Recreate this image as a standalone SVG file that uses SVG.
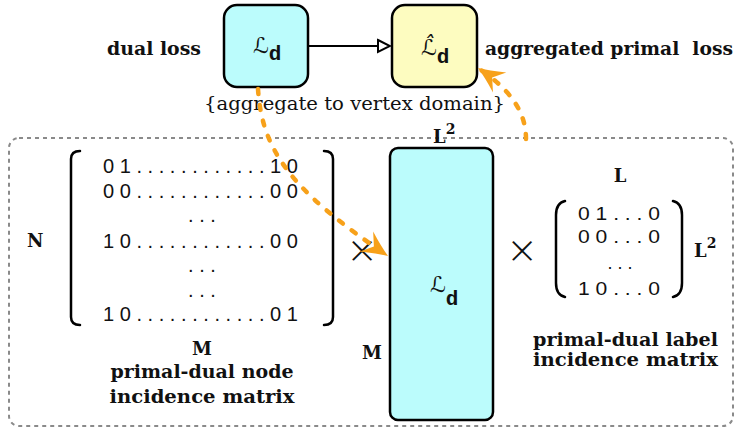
<svg xmlns="http://www.w3.org/2000/svg" width="735" height="428" viewBox="0 0 735 428">
<style>
.lbl{font-family:"DejaVu Serif","Liberation Serif",serif;font-weight:bold;font-size:18px;fill:#111}
.reg{font-family:"DejaVu Serif","Liberation Serif",serif;font-size:18px;fill:#111}
.mat{font-family:"Liberation Sans",Arial,sans-serif;font-size:20px;fill:#111}
.mat2{font-family:"Liberation Sans",Arial,sans-serif;font-size:18px;fill:#111}
.scr{font-family:"DejaVu Serif","DejaVu Sans",serif;font-style:italic;font-size:22px;fill:#111}
.sub{font-family:"Liberation Mono","Courier New",monospace;font-style:normal;font-size:21px;font-weight:bold;fill:#111}
.box{stroke:#000;stroke-width:2.5}
.cyan{fill:#bbfcfc}
.yellow{fill:#fdfcc0}
.brk{fill:none;stroke:#000;stroke-width:2.5;stroke-linecap:round}
.times{font-family:Inter,"Liberation Sans",sans-serif;font-weight:200;font-size:46px;fill:#111}
.orange{fill:none;stroke:#f7a11a;stroke-width:4.5;stroke-linecap:round;stroke-dasharray:5 11}
</style>
<defs>
<marker id="hollow" markerUnits="userSpaceOnUse" markerWidth="16" markerHeight="16" viewBox="-14 -8 16 16" refX="0" refY="0" orient="auto">
<path d="M-12,-6 L0,0 L-12,6 Z" fill="#fff" stroke="#000" stroke-width="2" stroke-linejoin="miter"/>
</marker>
<marker id="sharp" markerUnits="userSpaceOnUse" markerWidth="32" markerHeight="32" viewBox="-28 -16 32 32" refX="0" refY="0" orient="auto">
<path d="M0,0 Q-11,-4 -26,-12 L-17,0 L-26,12 Q-11,4 0,0 Z" fill="#f7a11a"/>
</marker>
</defs>

<g id="container">
<rect x="9" y="138" width="724" height="288" rx="10" fill="none" stroke="#8a8a8a" stroke-width="2" stroke-dasharray="4 4"/>
</g>

<g id="dual-loss">
<rect class="box cyan" x="224" y="5" width="84" height="82" rx="13"/>
<text class="scr" x="253" y="53">ℒ<tspan class="sub" dy="7">d</tspan></text>
<text class="lbl" x="107" y="55" textLength="94" lengthAdjust="spacingAndGlyphs">dual loss</text>
</g>

<g id="primal-loss">
<rect class="box yellow" x="392" y="5" width="85" height="82" rx="13"/>
<text class="scr" x="421" y="55">ℒ̂<tspan class="sub" dy="8">d</tspan></text>
<text class="lbl" x="485" y="55" xml:space="preserve" textLength="248" lengthAdjust="spacingAndGlyphs">aggregated primal  loss</text>
</g>

<g id="aggregate-label">
<text class="reg" x="204" y="110" textLength="301" lengthAdjust="spacingAndGlyphs">{aggregate to vertex domain}</text>
</g>

<g id="node-matrix">
<path class="brk" d="M80,151 Q71,151 71,159 L71,317 Q71,325 80,325"/>
<path class="brk" d="M324,151 Q333,151 333,159 L333,317 Q333,325 324,325"/>
<text class="mat" x="103" y="173" textLength="195" lengthAdjust="spacingAndGlyphs">0 1 . . . . . . . . . . . . 1 0</text>
<text class="mat" x="103" y="198" textLength="195" lengthAdjust="spacingAndGlyphs">0 0 . . . . . . . . . . . . 0 0</text>
<text class="mat" x="202" y="222" text-anchor="middle">. . .</text>
<text class="mat" x="103" y="248" textLength="195" lengthAdjust="spacingAndGlyphs">1 0 . . . . . . . . . . . . 0 0</text>
<text class="mat" x="202" y="272" text-anchor="middle">. . .</text>
<text class="mat" x="202" y="297" text-anchor="middle">. . .</text>
<text class="mat" x="103" y="321" textLength="195" lengthAdjust="spacingAndGlyphs">1 0 . . . . . . . . . . . . 0 1</text>
<text class="lbl" x="27" y="247" font-size="20">N</text>
<text class="lbl" x="202" y="355" text-anchor="middle" font-size="20">M</text>
<text class="lbl" x="202" y="378" text-anchor="middle" textLength="183" lengthAdjust="spacingAndGlyphs">primal-dual node</text>
<text class="lbl" x="202" y="403" text-anchor="middle" textLength="185" lengthAdjust="spacingAndGlyphs">incidence matrix</text>
</g>

<g id="times-1">
<text class="times" x="362" y="264" text-anchor="middle">×</text>
</g>

<g id="dual-matrix">
<rect class="box cyan" x="390" y="148" width="103" height="272" rx="8"/>
<text class="scr" x="430" y="292" font-size="20">ℒ<tspan class="sub" font-size="19" dy="13">d</tspan></text>
<text class="lbl" x="433" y="143" font-size="20">L<tspan font-size="14" dy="-9">2</tspan></text>
<text class="lbl" x="362" y="359" font-size="20">M</text>
</g>

<g id="times-2">
<text class="times" x="522" y="264" text-anchor="middle">×</text>
</g>

<g id="label-matrix">
<path class="brk" d="M565,201 Q556,203 556,215 L556,283 Q556,295 565,297"/>
<path class="brk" d="M673,201 Q682,203 682,215 L682,283 Q682,295 673,297"/>
<text class="mat2" x="578" y="220" textLength="82" lengthAdjust="spacingAndGlyphs">0 1 . . . 0</text>
<text class="mat2" x="578" y="243" textLength="82" lengthAdjust="spacingAndGlyphs">0 0 . . . 0</text>
<text class="mat2" x="620" y="269" text-anchor="middle">. . .</text>
<text class="mat2" x="578" y="295" textLength="82" lengthAdjust="spacingAndGlyphs">1 0 . . . 0</text>
<text class="lbl" x="620" y="182" text-anchor="middle" font-size="20">L</text>
<text class="lbl" x="694" y="257" font-size="20">L<tspan font-size="14" dy="-9">2</tspan></text>
<text class="lbl" x="533" y="346" textLength="185" lengthAdjust="spacingAndGlyphs">primal-dual label</text>
<text class="lbl" x="533" y="366" textLength="185" lengthAdjust="spacingAndGlyphs">incidence matrix</text>
</g>

<g id="connectors">
<line x1="308" y1="46" x2="390" y2="46" stroke="#000" stroke-width="2" marker-end="url(#hollow)"/>
<path class="orange" d="M258,89 C262,150 290,190 388,256" marker-end="url(#sharp)"/>
<path class="orange" d="M526,139 C526,110 508,88 478,68" marker-end="url(#sharp)"/>
</g>
</svg>
